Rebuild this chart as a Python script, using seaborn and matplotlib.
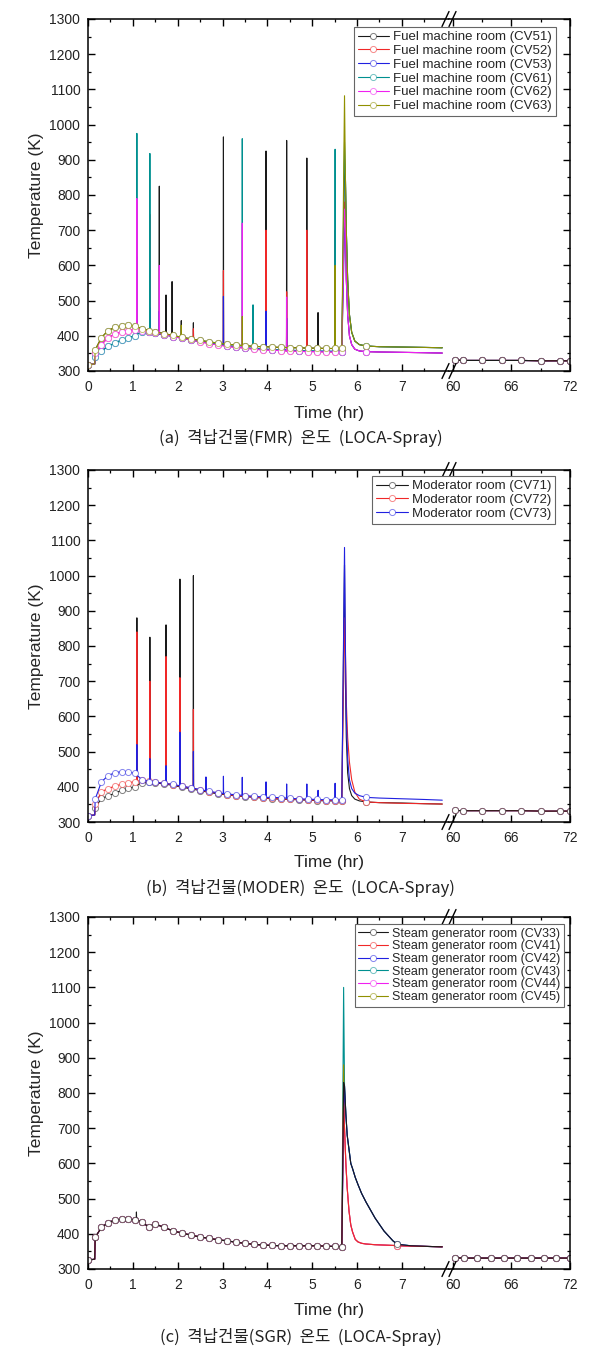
import matplotlib
matplotlib.use("Agg")
import matplotlib.pyplot as plt
from matplotlib.lines import Line2D
from matplotlib.colors import to_rgba
from matplotlib.ticker import MultipleLocator, FixedLocator
import seaborn as sns

W, H = 605, 1359
X_LEFT, X_JOIN, X_RIGHT = 88, 449, 570

# time grid (hr) of the slow part of the curves, before the big spike
T_BASE = [0.0, 0.15, 0.16, 0.3, 0.45, 0.6, 0.75, 0.9, 1.05, 1.2, 1.35, 1.5, 1.7, 1.9,
          2.1, 2.3, 2.5, 2.7, 2.9, 3.1, 3.3, 3.5, 3.7, 3.9, 4.1, 4.3, 4.5, 4.7, 4.9,
          5.1, 5.3, 5.5, 5.66]
T_POST = [5.74, 5.76, 5.79, 5.83, 5.88, 5.95, 6.05, 6.2, 6.5, 7.0, 7.5, 7.9]
T_RIGHT = [60.2, 61.0, 63.0, 65.0, 67.0, 69.0, 71.0, 72.0]

# ---- (a) fuel machine rooms
A_UP = [318, 320, 360, 395, 415, 424, 428, 430, 428, 420, 415, 411, 406, 401, 396, 391,
        387, 383, 379, 376, 374, 372, 370, 369, 368, 367, 366, 366, 365, 365, 364, 364, 364]
A_MID = [318, 320, 350, 375, 395, 405, 411, 415, 417, 415, 411, 408, 403, 398, 393, 388,
         383, 378, 374, 370, 367, 365, 362, 360, 359, 358, 357, 356, 355, 355, 354, 354, 353]
A_LOW = [318, 320, 340, 357, 370, 380, 388, 395, 400, 410, 410, 407, 403, 398, 393, 388,
         384, 380, 376, 372, 369, 366, 364, 362, 361, 360, 359, 358, 357, 357, 356, 356, 355]
A_POST_UP = [850, 700, 560, 460, 410, 385, 375, 371, 369, 368, 367, 366]
A_POST_LOW = [720, 560, 460, 400, 375, 362, 357, 355, 354, 353, 352, 351]
A_RIGHT = [331, 330, 330, 330, 330, 329, 329, 329]
A_NAMES = ["CV51", "CV52", "CV53", "CV61", "CV62", "CV63"]
A_PEAK = [900, 780, 700, 950, 760, 1082]
# (time, foot, top) of the short spikes
A_SPIKES = [
    [(1.09, 426, 480), (1.59, 409, 825), (1.74, 405, 516), (1.875, 402, 554), (2.08, 396, 443),
     (2.35, 390, 437), (3.02, 377, 965), (3.97, 369, 925), (4.43, 367, 955), (4.88, 365, 905),
     (5.13, 365, 466)],
    [(1.38, 411, 745), (2.35, 387, 420), (3.02, 372, 585), (3.97, 360, 700), (4.43, 357, 525),
     (4.88, 355, 700), (5.51, 354, 700)],
    [(1.09, 405, 625), (1.38, 410, 480), (1.59, 405, 470), (3.02, 374, 512), (3.97, 362, 470),
     (4.43, 360, 450)],
    [(1.09, 405, 975), (1.38, 410, 918), (3.44, 367, 960), (3.68, 364, 488), (5.51, 356, 930)],
    [(1.09, 417, 790), (1.59, 406, 600), (3.44, 366, 720), (4.43, 357, 510)],
    [(2.08, 396, 430), (3.44, 372, 455), (5.51, 364, 600)],
]

# ---- (b) moderator rooms
B_UP = [318, 320, 365, 414, 432, 440, 443, 442, 438, 420, 415, 413, 410, 407, 402, 397,
        392, 387, 383, 380, 377, 375, 373, 371, 370, 369, 367, 366, 365, 364, 363, 363, 362]
B_MID = [318, 320, 350, 386, 395, 402, 407, 411, 415, 418, 416, 413, 410, 406, 401, 396,
         391, 386, 382, 378, 375, 373, 371, 369, 367, 366, 365, 364, 363, 362, 361, 361, 360]
B_LOW = [318, 320, 340, 367, 374, 382, 390, 396, 400, 412, 413, 411, 408, 404, 399, 394,
         389, 384, 380, 377, 374, 372, 370, 368, 366, 365, 364, 363, 362, 361, 360, 360, 359]
B_POST_UP = [800, 600, 480, 420, 395, 382, 375, 370, 368, 366, 364, 362]
B_POST_MID = [780, 640, 540, 470, 420, 385, 365, 357, 355, 353, 352, 351]
B_POST_LOW = [700, 540, 440, 395, 375, 365, 360, 357, 355, 354, 352, 351]
B_RIGHT = [333, 332, 332, 332, 332, 331, 331, 331]
B_NAMES = ["CV71", "CV72", "CV73"]
B_PEAK = [1030, 880, 1080]
B_SPIKES = [
    [(1.09, 404, 880), (1.38, 413, 825), (1.74, 407, 860), (2.05, 400, 990), (2.35, 393, 1000)],
    [(1.09, 416, 840), (1.38, 415, 700), (1.74, 409, 770), (2.05, 402, 710), (2.35, 395, 620)],
    [(1.09, 433, 520), (1.38, 415, 480), (1.74, 409, 460), (2.05, 403, 555), (2.35, 396, 500),
     (2.63, 389, 428), (3.02, 381, 430), (3.44, 376, 427), (3.97, 370, 414), (4.43, 368, 408),
     (4.88, 365, 408), (5.13, 364, 390), (5.51, 363, 410)],
]

# ---- (c) steam generator rooms
C_BASE = [325, 328, 390, 418, 432, 439, 441, 441, 440, 433, 420, 428, 418, 408, 402, 396,
          391, 387, 383, 380, 376, 373, 370, 368, 367, 366, 366, 366, 366, 366, 365, 364, 363]
T_POST_C = [5.72, 5.75, 5.78, 5.82, 5.86, 5.9, 5.96, 6.02, 6.1, 6.2, 6.4, 6.6, 6.8, 6.9,
            7.2, 7.6, 7.9]
C_POST_SLOW = [820, 740, 680, 640, 600, 585, 560, 540, 515, 490, 445, 408, 380, 370, 366, 364, 363]
C_POST_FAST = [700, 600, 530, 465, 425, 405, 384, 377, 373, 371, 369, 368, 367, 366, 365, 364, 363]
T_RIGHT_C = [60.2, 61.1, 62.5, 63.9, 65.2, 66.6, 68.0, 69.3, 70.6, 72.0]
C_RIGHT = [332, 331, 331, 331, 331, 331, 331, 331, 331, 331]
C_NAMES = ["CV33", "CV41", "CV42", "CV43", "CV44", "CV45"]
C_PEAK = [830, 780, 720, 1100, 760, 880]
C_SPIKES = [[(1.08, 440, 462)], [], [], [], [], []]

COLORS = ["#1a1a1a", "#f02828", "#2020e0", "#009090", "#f020f0", "#909000"]


def build(base, t_post, post, t_main, peak, spikes, t_mark):
    pts = [(t, v, i != 1) for i, (t, v) in enumerate(zip(T_BASE, base))]
    pts.append((t_main, peak, False))
    pts += [(t, v, t == t_mark) for t, v in zip(t_post, post)]
    for ts, foot, top in spikes:
        pts += [(ts - 0.004, foot, False), (ts, top, False), (ts + 0.004, foot, False)]
    pts.sort(key=lambda p: p[0])
    return [p[0] for p in pts], [p[1] for p in pts], [i for i, p in enumerate(pts) if p[2]]


def make_axes(fig, top, bottom):
    y0 = 1 - bottom / H
    h = (bottom - top) / H
    axL = fig.add_axes([X_LEFT / W, y0, (X_JOIN - X_LEFT) / W, h])
    axR = fig.add_axes([X_JOIN / W, y0, (X_RIGHT - X_JOIN) / W, h])
    for ax in (axL, axR):
        ax.set_ylim(300, 1300)
        ax.yaxis.set_major_locator(MultipleLocator(100))
        ax.yaxis.set_minor_locator(MultipleLocator(50))
        ax.tick_params(which="both", direction="in", top=True, bottom=True, labelsize=10,
                       color="black", labelcolor="#222222")
        ax.tick_params(which="major", length=5, width=1.0)
        ax.tick_params(which="minor", length=2.5, width=0.9)
        ax.tick_params(axis="x", pad=6.5)
        ax.tick_params(axis="y", pad=5.5)
        for s in ax.spines.values():
            s.set_linewidth(1.1)
            s.set_color("black")
    axL.set_xlim(0, 8.05)
    axL.set_xticks(range(8))
    axL.xaxis.set_minor_locator(FixedLocator([0.5, 1.5, 2.5, 3.5, 4.5, 5.5, 6.5, 7.5]))
    axL.tick_params(which="both", right=False, left=True)
    axL.spines["right"].set_visible(False)
    axR.set_xlim(59.6, 72)
    axR.set_xticks([60, 66, 72])
    axR.set_xticks([63, 69], minor=True)
    axR.tick_params(which="both", left=False, right=True, labelleft=False)
    axR.spines["left"].set_visible(False)
    axL.set_ylabel("Temperature (K)", fontsize=12.5, labelpad=4)
    # break marks on the top and bottom frame
    for y in (top, bottom):
        for dx in (-3.5, 3.5):
            xc = X_JOIN + dx
            fig.add_artist(Line2D([(xc - 3.5) / W, (xc + 3.5) / W],
                                  [1 - (y + 7.5) / H, 1 - (y - 7.5) / H],
                                  color="black", lw=1.0, transform=fig.transFigure))
    return axL, axR


def line_style(color):
    return dict(color=color, lw=0.8, marker="o", ms=4.4, mfc="white",
                mec=to_rgba(color, 0.55), mew=0.7, sort=False, estimator=None, legend=False)


def draw(axL, axR, names, prefix, bases, t_post, posts, t_main, peaks, spikes, t_mark,
         t_right, v_right, order):
    for k in order:
        t, v, marks = build(bases[k], t_post, posts[k], t_main, peaks[k], spikes[k], t_mark)
        sns.lineplot(x=t, y=v, ax=axL, markevery=marks, label=f"{prefix} ({names[k]})",
                     **line_style(COLORS[k]))
    for k in sorted(order, reverse=True):
        sns.lineplot(x=t_right, y=v_right, ax=axR, **line_style(COLORS[k]))
    for ax in (axL, axR):
        ax.set_xlabel("")


def add_legend(fig, axL, top_px, right_px, size, spacing):
    handles, labels = axL.get_legend_handles_labels()
    pairs = sorted(zip(labels, handles))
    leg = fig.legend([p[1] for p in pairs], [p[0] for p in pairs], loc="upper right",
                     bbox_to_anchor=(right_px / W, 1 - top_px / H), borderaxespad=0,
                     fontsize=size, frameon=True, fancybox=False, framealpha=1,
                     edgecolor="#666666", borderpad=0.3, labelspacing=spacing,
                     handlelength=2.4, handletextpad=0.3, numpoints=1)
    leg.get_frame().set_linewidth(0.8)


sns.set_theme(style="ticks")
plt.rcParams["font.family"] = ["Liberation Sans", "Noto Sans CJK KR", "DejaVu Sans"]

fig = plt.figure(figsize=(W / 100, H / 100), dpi=100)
fig.patch.set_facecolor("white")

CAP_FONT = ["Noto Sans CJK KR", "DejaVu Sans"]
panels = [
    (413, 438, "(a)  격납건물(FMR)  온도  (LOCA-Spray)"),
    (863, 888, "(b)  격납건물(MODER)  온도  (LOCA-Spray)"),
    (1310, 1337, "(c)  격납건물(SGR)  온도  (LOCA-Spray)"),
]

# (a)
axL, axR = make_axes(fig, 19, 371)
draw(axL, axR, A_NAMES, "Fuel machine room",
     [A_UP, A_MID, A_LOW, A_LOW, A_MID, A_UP], T_POST,
     [A_POST_UP, A_POST_LOW, A_POST_LOW, A_POST_UP, A_POST_LOW, A_POST_UP],
     5.72, A_PEAK, A_SPIKES, 6.2, T_RIGHT, A_RIGHT, [0, 1, 2, 3, 4, 5])
add_legend(fig, axL, 27, 556, 9.5, 0.12)

# (b)
axL, axR = make_axes(fig, 470, 822)
draw(axL, axR, B_NAMES, "Moderator room", [B_LOW, B_MID, B_UP], T_POST,
     [B_POST_LOW, B_POST_MID, B_POST_UP], 5.72, B_PEAK, B_SPIKES, 6.2,
     T_RIGHT, B_RIGHT, [0, 1, 2])
add_legend(fig, axL, 476, 555, 9.5, 0.12)

# (c)
axL, axR = make_axes(fig, 917, 1269)
draw(axL, axR, C_NAMES, "Steam generator room", [C_BASE] * 6, T_POST_C,
     [C_POST_SLOW, C_POST_FAST, C_POST_SLOW, C_POST_SLOW, C_POST_FAST, C_POST_FAST],
     5.70, C_PEAK, C_SPIKES, 6.9, T_RIGHT_C, C_RIGHT, [3, 5, 4, 2, 1, 0])
add_legend(fig, axL, 924, 564, 9.0, 0.05)

for y_lab, y_cap, cap in panels:
    fig.text((X_LEFT + X_RIGHT) / 2 / W, 1 - y_lab / H, "Time (hr)", ha="center",
             va="center", fontsize=12.5, color="#222222")
    fig.text(0.497, 1 - y_cap / H, cap, ha="center", va="center", fontsize=12,
             family=CAP_FONT, color="#222222")

fig.savefig("out.png", dpi=100, facecolor="white")
